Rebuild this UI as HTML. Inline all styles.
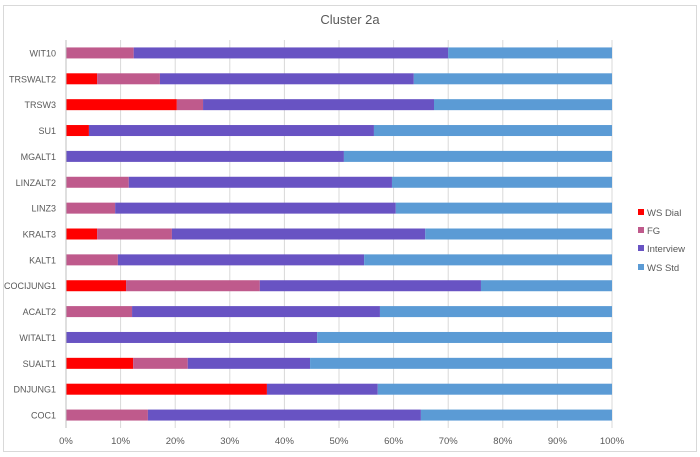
<!DOCTYPE html>
<html><head><meta charset="utf-8"><style>
body{margin:0;background:#fff;}
svg{display:block;font-family:"Liberation Sans",sans-serif;}
</style></head><body>
<svg id="chart" width="700" height="457">
<rect x="3.5" y="5.5" width="693" height="446" fill="#fff" stroke="#d9d9d9"/>
<text x="350" y="24" text-anchor="middle" font-size="13" fill="#595959">Cluster 2a</text>
<g id="grid"></g><g id="bars"></g><g id="axes"></g><g id="legend"></g>
</svg>
<script>
const categories=["WIT10","TRSWALT2","TRSW3","SU1","MGALT1","LINZALT2","LINZ3","KRALT3","KALT1","COCIJUNG1","ACALT2","WITALT1","SUALT1","DNJUNG1","COC1"];
const wsiDial=[0,5.7,20.3,4.2,0,0,0,5.7,0,11,0,0,12.3,36.8,0];
const fg=[12.4,11.5,4.8,0,0,11.5,9,13.7,9.5,24.5,12.1,0,10,0,15];
const interview=[57.6,46.5,42.3,52.2,50.9,48.2,51.4,46.4,45.1,40.5,45.4,46,22.4,20.3,50];
const wsiStd=[30,36.3,32.6,43.6,49.1,40.3,39.6,34.2,45.4,24,42.5,54,55.3,42.9,35];
const tickLabels=["0%","10%","20%","30%","40%","50%","60%","70%","80%","90%","100%"];
const seriesNames=["WS Dial","FG","Interview","WS Std"];
const colors=["#ff0000","#bf5a8c","#6853c3","#5b9bd5"];
const NS="http://www.w3.org/2000/svg";
const X0=66,X1=612,Y0=40,Y1=428;
const step=(Y1-Y0)/categories.length;
const xs=v=>X0+(X1-X0)*v/100;
const yc=i=>Y0+step*(i+0.5);
function mk(p,t,a){const e=document.createElementNS(NS,t);for(const k in a)e.setAttribute(k,a[k]);p.appendChild(e);return e;}
const grid=document.getElementById('grid'),bars=document.getElementById('bars'),axes=document.getElementById('axes'),legend=document.getElementById('legend');
tickLabels.forEach((t,i)=>{
  const x=xs(i*10);
  const l=mk(grid,'line',{x1:x,x2:x,y1:Y0,y2:Y1,stroke:'#d9d9d9'});
  
  
  const tx=mk(axes,'text',{x:x,y:Y1+16,'text-anchor':'middle','font-size':9.5,fill:'#595959'});
  tx.textContent=t;
  
  
});
const ax=mk(axes,'line',{x1:X0,x2:X0,y1:Y0,y2:Y1,stroke:'#bfbfbf'});


const series=[wsiDial,fg,interview,wsiStd];
categories.forEach((c,i)=>{
  let acc=0;const y=yc(i);
  series.forEach((s,k)=>{
    const v=s[i];
    if(v>0){
      const r=mk(bars,'rect',{x:xs(acc),y:y-5.5,width:xs(acc+v)-xs(acc),height:11,fill:colors[k]});
      
      
    }
    acc+=v;
  });
  const t=mk(axes,'text',{x:X0-10,y:y+3.5,'text-anchor':'end','font-size':9,fill:'#595959'});
  t.textContent=c;
  
  
});
const ly=[213,231,249,268];
seriesNames.forEach((n,k)=>{
  const g=mk(legend,'g',{});
  
  
  mk(g,'rect',{x:638,y:ly[k]-4,width:6,height:6,fill:colors[k]});
  const t=mk(g,'text',{x:647,y:ly[k]+3,'font-size':9.5,fill:'#595959'});
  t.textContent=n;
});
</script>
</body></html>
